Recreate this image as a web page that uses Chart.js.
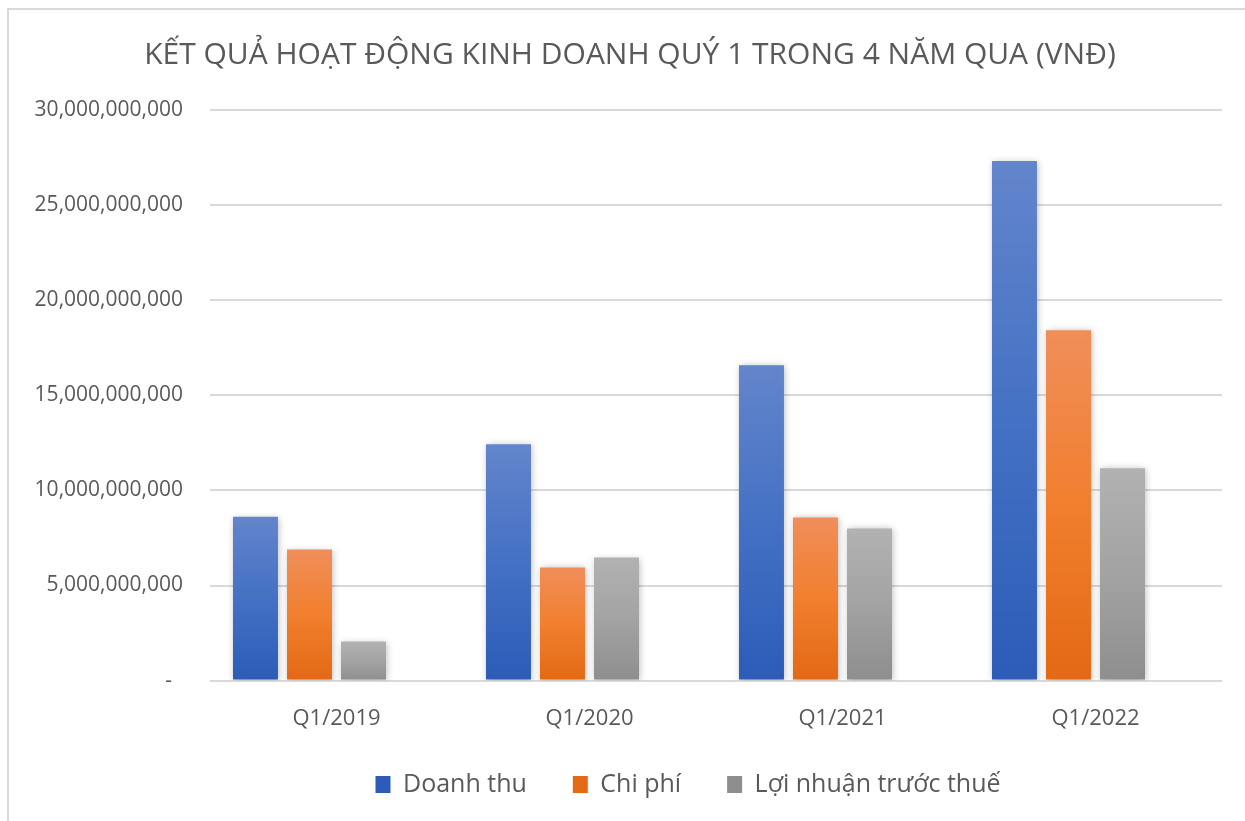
<!DOCTYPE html>
<html>
<head>
<meta charset="utf-8">
<script src="https://cdn.jsdelivr.net/npm/chart.js@4"></script>
<style>
  html, body { margin: 0; padding: 0; background: #fff; overflow: hidden; }
  #frame {
    position: absolute; left: 7px; top: 8px; width: 1300px; height: 900px;
    border-top: 2px solid #d9d9d9; border-left: 2px solid #d9d9d9;
  }
  #wrap { position: absolute; left: 0; top: 0; width: 1245px; height: 821px; }
</style>
</head>
<body>
<div id="frame"></div>
<div id="wrap"><canvas id="chart"></canvas></div>
<script>
// Data (VND)
const quarters = ['Q1/2019', 'Q1/2020', 'Q1/2021', 'Q1/2022']
const doanhThu = [8620000000, 12420000000, 16580000000, 27320000000]
const chiPhi = [6890000000, 5950000000, 8580000000, 18420000000]
const loiNhuan = [2050000000, 6470000000, 8000000000, 11160000000]
const seriesNames = ['Doanh thu', 'Chi phí', 'Lợi nhuận trước thuế']
const yTicks = [0, 5000000000, 10000000000, 15000000000, 20000000000, 25000000000, 30000000000]

const TEXT = '#595959'
const FONT = "'Open Sans', sans-serif"

// vertical gradient per bar: light at top, darker at the base
function barFill(top, mid, bottom) {
  return (ctx) => {
    const chart = ctx.chart
    if (ctx.type !== 'data' || !chart.chartArea) return mid
    const y = chart.scales.y
    const yTop = y.getPixelForValue(ctx.raw)
    const yBase = y.getPixelForValue(0)
    if (!isFinite(yTop) || yBase - yTop < 1) return mid
    const g = chart.ctx.createLinearGradient(0, yTop, 0, yBase)
    g.addColorStop(0, top)
    g.addColorStop(0.5, mid)
    g.addColorStop(1, bottom)
    return g
  }
}

// soft drop shadow under the bars
const barShadow = {
  id: 'barShadow',
  beforeDatasetsDraw(chart) {
    const c = chart.ctx
    c.save()
    c.shadowColor = 'rgba(0,0,0,0.28)'
    c.shadowBlur = 7
    c.shadowOffsetX = 1
    c.shadowOffsetY = 1
  },
  afterDatasetsDraw(chart) {
    chart.ctx.restore()
  },
}

// nudge title / legend to where they sit in the original
const placeBoxes = {
  id: 'placeBoxes',
  afterLayout(chart) {
    const t = chart.titleBlock
    if (t) { t.left += 19; t.right += 19 }
    const l = chart.legend
    if (l) { l.left += 77; l.right += 77; l.top -= 31; l.bottom -= 31 }
  },
}

new Chart(document.getElementById('chart'), {
  type: 'bar',
  data: {
    labels: quarters,
    datasets: [
      { label: seriesNames[0], data: doanhThu, backgroundColor: barFill('#6385cb', '#4471c4', '#2c5cb8') },
      { label: seriesNames[1], data: chiPhi, backgroundColor: barFill('#f08e5a', '#f17f2e', '#e36914') },
      { label: seriesNames[2], data: loiNhuan, backgroundColor: barFill('#b2b2b2', '#a3a3a3', '#8e8e8e') },
      // empty fourth slot, as in the source chart
      { label: '', data: [null, null, null, null], backgroundColor: 'rgba(0,0,0,0)' },
    ],
  },
  options: {
    responsive: true,
    maintainAspectRatio: false,
    animation: false,
    datasets: {
      bar: { barPercentage: 0.833, categoryPercentage: 0.854 },
    },
    layout: { padding: { top: 0, left: 0, right: 23, bottom: -17 } },
    plugins: {
      title: {
        display: true,
        text: 'KẾT QUẢ HOẠT ĐỘNG KINH DOANH QUÝ 1 TRONG 4 NĂM QUA (VNĐ)',
        color: TEXT,
        font: { family: FONT, size: 30, weight: 'normal' },
        padding: { top: 37, bottom: 37 },
      },
      legend: {
        position: 'bottom',
        labels: {
          color: TEXT,
          font: { family: FONT, size: 25 },
          boxWidth: 15,
          boxHeight: 17,
          padding: 46,
          filter: (item) => item.text !== '',
        },
      },
      tooltip: { enabled: false },
    },
    scales: {
      x: {
        grid: { display: false, drawTicks: false },
        border: { display: false },
        ticks: { color: TEXT, font: { family: FONT, size: 22 }, padding: 25 },
      },
      y: {
        min: 0,
        max: 30000000000,
        afterFit(scale) { scale.width = 210 },
        afterBuildTicks(scale) { scale.ticks = yTicks.map(v => ({ value: v })) },
        grid: { color: '#d9d9d9', lineWidth: 2, drawTicks: false },
        border: { display: false },
        ticks: {
          color: TEXT,
          font: { family: FONT, size: 21 },
          padding: 27,
          callback: (v) => v === 0 ? '-  ' : Number(v).toLocaleString('en-US'),
        },
      },
    },
  },
  plugins: [barShadow, placeBoxes],
})
</script>
</body>
</html>
